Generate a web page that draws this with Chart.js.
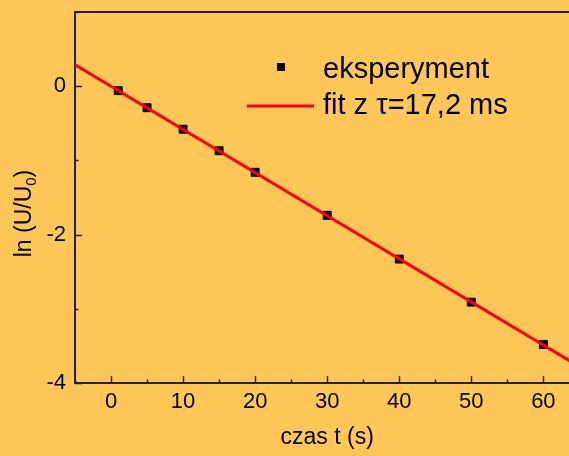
<!DOCTYPE html>
<html lang="pl">
<head>
  <meta charset="UTF-8">
  <title>ln (U/U0) w funkcji czasu</title>
  <script src="https://cdn.jsdelivr.net/npm/chart.js"></script>
  <style>
    html, body { margin: 0; padding: 0; background: #FEC758; overflow: hidden; }
    #wrap { width: 586px; height: 456px; }
  </style>
</head>
<body>
  <div id="wrap"><canvas id="lnChart" width="586" height="456"></canvas></div>

  <script>
    // dane
    const czas = [1, 5, 10, 15, 20, 30, 40, 50, 60];
    const lnU = [-0.06, -0.29, -0.58, -0.87, -1.16, -1.74, -2.33, -2.91, -3.48];
    const fitCzas = [-5, 65];
    const fitLn = [0.29, -3.78];
    const xTicks = [0, 10, 20, 30, 40, 50, 60];
    const xMinor = [-5, 5, 15, 25, 35, 45, 55, 65];
    const yTicks = [-4, -2, 0];
    const yMinor = [-3, -1, 1];

    const FONT = "'Liberation Sans', Arial, sans-serif";
    const AXIS = '#222';

    // ticki do srodka, gorna ramka, opis osi Y z indeksem, legenda
    const extras = {
      id: 'extras',
      afterDraw(chart) {
        const ctx = chart.ctx, a = chart.chartArea;
        const sx = chart.scales.x, sy = chart.scales.y;
        ctx.save();
        ctx.strokeStyle = AXIS;
        ctx.lineWidth = 2;
        ctx.beginPath();
        ctx.moveTo(a.left - 1, a.top);
        ctx.lineTo(a.right, a.top);
        ctx.stroke();

        ctx.lineWidth = 1.5;
        ctx.beginPath();
        xTicks.forEach(v => { const p = Math.round(sx.getPixelForValue(v)) + 0.5; ctx.moveTo(p, a.bottom); ctx.lineTo(p, a.bottom - 7); });
        xMinor.forEach(v => { const p = Math.round(sx.getPixelForValue(v)) + 0.5; ctx.moveTo(p, a.bottom); ctx.lineTo(p, a.bottom - 3.5); });
        yTicks.forEach(v => { const p = Math.round(sy.getPixelForValue(v)) + 0.5; ctx.moveTo(a.left, p); ctx.lineTo(a.left + 7, p); });
        yMinor.forEach(v => { const p = Math.round(sy.getPixelForValue(v)) + 0.5; ctx.moveTo(a.left, p); ctx.lineTo(a.left + 3.5, p); });
        ctx.stroke();

        // ln (U/U0)
        ctx.fillStyle = '#000';
        ctx.textBaseline = 'middle';
        ctx.textAlign = 'left';
        ctx.translate(25, (a.top + a.bottom) / 2 + 16);
        ctx.rotate(-Math.PI / 2);
        const main = '23px ' + FONT, sub = '15px ' + FONT;
        ctx.font = main;
        const w1 = ctx.measureText('ln (U/U').width, w3 = ctx.measureText(')').width;
        ctx.font = sub;
        const w2 = ctx.measureText('0').width;
        let x0 = -(w1 + w2 + w3) / 2;
        ctx.font = main; ctx.fillText('ln (U/U', x0, 0);
        ctx.font = sub; ctx.fillText('0', x0 + w1, 7);
        ctx.font = main; ctx.fillText(')', x0 + w1 + w2, 0);
        ctx.restore();

        // legenda
        const pts = chart.data.datasets[1], fit = chart.data.datasets[0];
        ctx.save();
        ctx.fillStyle = '#000';
        ctx.fillRect(a.left + 202, a.top + 51, 8, 8);
        ctx.strokeStyle = fit.borderColor;
        ctx.lineWidth = 3;
        ctx.beginPath();
        ctx.moveTo(a.left + 172, a.top + 94);
        ctx.lineTo(a.left + 239, a.top + 94);
        ctx.stroke();
        ctx.font = '29px ' + FONT;
        ctx.textBaseline = 'middle';
        ctx.fillText(pts.label, a.left + 248, a.top + 58);
        ctx.fillText(fit.label, a.left + 248, a.top + 94);
        ctx.restore();
      }
    };

    new Chart(document.getElementById('lnChart'), {
      type: 'scatter',
      data: {
        datasets: [{
          label: 'fit z τ=17,2 ms',
          data: fitCzas.map((x, i) => ({ x: x, y: fitLn[i] })),
          showLine: true,
          borderColor: '#FF0000',
          borderWidth: 3,
          pointRadius: 0,
          order: 0
        }, {
          label: 'eksperyment',
          data: czas.map((x, i) => ({ x: x, y: lnU[i] })),
          pointStyle: 'rect',
          pointRadius: 5.6,
          backgroundColor: '#000',
          borderColor: '#000',
          borderWidth: 1,
          order: 1
        }]
      },
      options: {
        responsive: false,
        animation: false,
        devicePixelRatio: 1,
        layout: { padding: { top: 12, right: 1, left: 0, bottom: 0 } },
        plugins: { legend: { display: false }, tooltip: { enabled: false } },
        scales: {
          x: {
            min: -5, max: 65,
            afterBuildTicks: s => { s.ticks = xTicks.map(v => ({ value: v })); },
            afterFit: s => { s.height = 73; s.paddingLeft = 0; s.paddingRight = 0; },
            grid: { display: false, drawTicks: false },
            border: { display: true, color: AXIS, width: 2 },
            ticks: { color: '#000', font: { family: FONT, size: 22 }, padding: 6, maxRotation: 0 },
            title: { display: true, text: 'czas t (s)', color: '#000', font: { family: FONT, size: 23 }, padding: { top: 4, bottom: 5 } }
          },
          y: {
            min: -4, max: 1,
            afterBuildTicks: s => { s.ticks = yTicks.map(v => ({ value: v })); },
            afterFit: s => { s.width = 75; s.paddingTop = 0; s.paddingBottom = 0; },
            grid: { display: false, drawTicks: false },
            border: { display: true, color: AXIS, width: 2 },
            ticks: { color: '#000', font: { family: FONT, size: 22 }, padding: 9 }
          }
        }
      },
      plugins: [extras]
    });
  </script>
</body>
</html>
